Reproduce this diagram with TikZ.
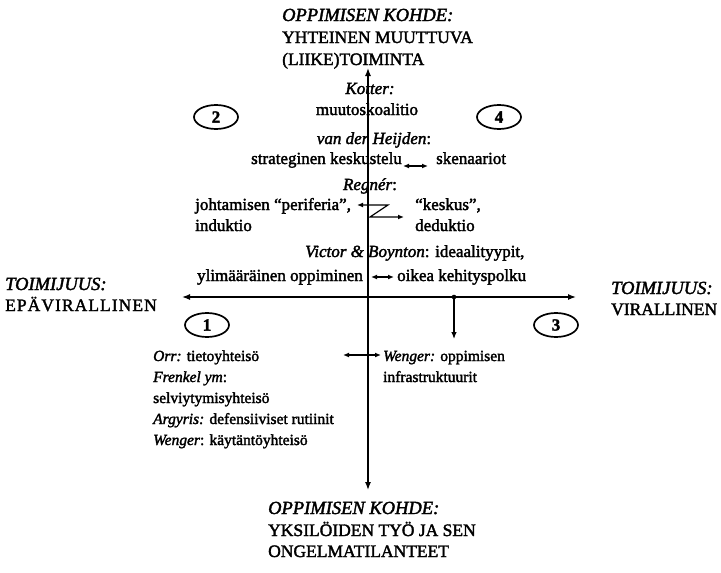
\documentclass[tikz,border=0pt]{standalone}
\usepackage{fontspec}
\setmainfont{Liberation Serif}[FakeBold=2]
\usetikzlibrary{arrows.meta,shapes.geometric}
\begin{document}
\begin{tikzpicture}[x=1pt,y=-1pt,
  txt/.style={inner sep=0pt, anchor=base west, font=\fontsize{15.5}{21}\selectfont},
  up/.style={font=\fontsize{17}{21}\selectfont},
  pole/.style={txt, font=\fontsize{17.5}{21}\selectfont},
  polei/.style={txt, font=\fontsize{18.5}{21}\selectfont\itshape},
  rtxt/.style={txt, anchor=base east},
  ctxt/.style={txt, anchor=base},
  axis/.style={line width=1.3pt, {Latex[length=8pt,width=6pt]}-{Latex[length=8pt,width=6pt]}},
  link/.style={line width=1.2pt, {Latex[length=6pt,width=5pt]}-{Latex[length=6pt,width=5pt]}},
  oneway/.style={line width=1.2pt, -{Latex[length=7pt,width=5.5pt]}},
  numc/.style={draw, ellipse, line width=1.7pt, minimum width=44pt, minimum height=24pt,
    inner sep=0pt, font=\bfseries\fontsize{17}{17}\selectfont}]
\useasboundingbox (0,0) rectangle (721,573);

% axes
\coordinate (vtop) at (368,68);
\coordinate (vbot) at (368,490);
\coordinate (hleft) at (182,297);
\coordinate (hright) at (576,297);
\draw[axis] (vbot) -- (vtop);
\draw[axis] (hleft) -- (hright);

% top pole
\node[polei] (topa) at (282,21) {OPPIMISEN KOHDE:};
\node[pole] (topb) at (282,43) {YHTEINEN MUUTTUVA};
\node[pole] (topc) at (282,65) {(LIIKE)TOIMINTA};

% bottom pole
\node[polei] (bota) at (268,514) {OPPIMISEN KOHDE:};
\node[pole] (botb) at (268,536) {YKSILÖIDEN TYÖ JA SEN};
\node[pole] (botc) at (268,557) {ONGELMATILANTEET};

% left and right poles
\node[polei] (lefta) at (5,290) {TOIMIJUUS:};
\node[pole, font=\fontsize{17.5}{21}\selectfont\addfontfeature{LetterSpace=6}] (leftb) at (5,311) {EPÄVIRALLINEN};
\node[polei] (righta) at (611,294) {TOIMIJUUS:};
\node[pole] (rightb) at (611,315) {VIRALLINEN};

% quadrant numbers
\node[numc] (q2) at (216,117) {2};
\node[numc] (q4) at (499,117) {4};
\node[numc] (q1) at (207,325) {1};
\node[numc] (q3) at (556,325) {3};

% upper half
\node[ctxt, up] (kotter) at (370,94) {\textit{Kotter:}};
\node[ctxt, up] (koal) at (367,115) {muutoskoalitio};
\node[ctxt, up] (heijden) at (374,144) {\textit{van der Heijden}:};
\node[rtxt, up] (strat) at (402,164) {strateginen keskustelu};
\node[txt, up] (sken) at (436,164) {skenaariot};
\coordinate (hA) at (403,166);
\coordinate (hB) at (428,166);
\draw[link] (hA) -- (hB);

\node[ctxt, up] (regner) at (370,190) {\textit{Regnér}:};
\node[txt, up] (perif) at (195,210) {johtamisen “periferia”,};
\node[txt, up] (induk) at (195,231) {induktio};
\node[txt, up] (keskus) at (415,210) {“keskus”,};
\node[txt, up] (deduk) at (415,231) {deduktio};
\coordinate (zA) at (357,205);
\coordinate (zB) at (388,205);
\coordinate (zC) at (370,217);
\coordinate (zD) at (404,217);
\draw[line width=1.2pt, {Latex[length=6pt,width=5pt]}-{Latex[length=6pt,width=5pt]}]
  (zA) -- (zB) -- (zC) -- (zD);

\node[txt, up] (victor) at (305,257) {\textit{Victor \& Boynton}: ideaalityypit,};
\node[rtxt, up] (ylim) at (363,281) {ylimääräinen oppiminen};
\node[txt, up] (oikea) at (397,281) {oikea kehityspolku};
\coordinate (vA) at (371,277);
\coordinate (vB) at (394,277);
\draw[link] (vA) -- (vB);

% tick on the horizontal axis
\coordinate (tick) at (454,297);
\coordinate (tickend) at (454,339);
\fill (tick) circle (2.3pt);
\draw[oneway] (tick) -- (tickend);

% lower half
\node[txt] (orr) at (153,361) {\textit{Orr:} tietoyhteisö};
\node[txt] (frenkel) at (153,382) {\textit{Frenkel ym}:};
\node[txt] (selv) at (153,403) {selviytymisyhteisö};
\node[txt] (argyris) at (153,424) {\textit{Argyris:} defensiiviset rutiinit};
\node[txt] (wenger1) at (153,445) {\textit{Wenger}: käytäntöyhteisö};
\node[txt] (wenger2) at (383,361) {\textit{Wenger:} oppimisen};
\node[txt] (infra) at (383,382) {infrastruktuurit};
\coordinate (bA) at (343,355);
\coordinate (bB) at (381,355);
\draw[link] (bA) -- (bB);
\end{tikzpicture}
\end{document}
